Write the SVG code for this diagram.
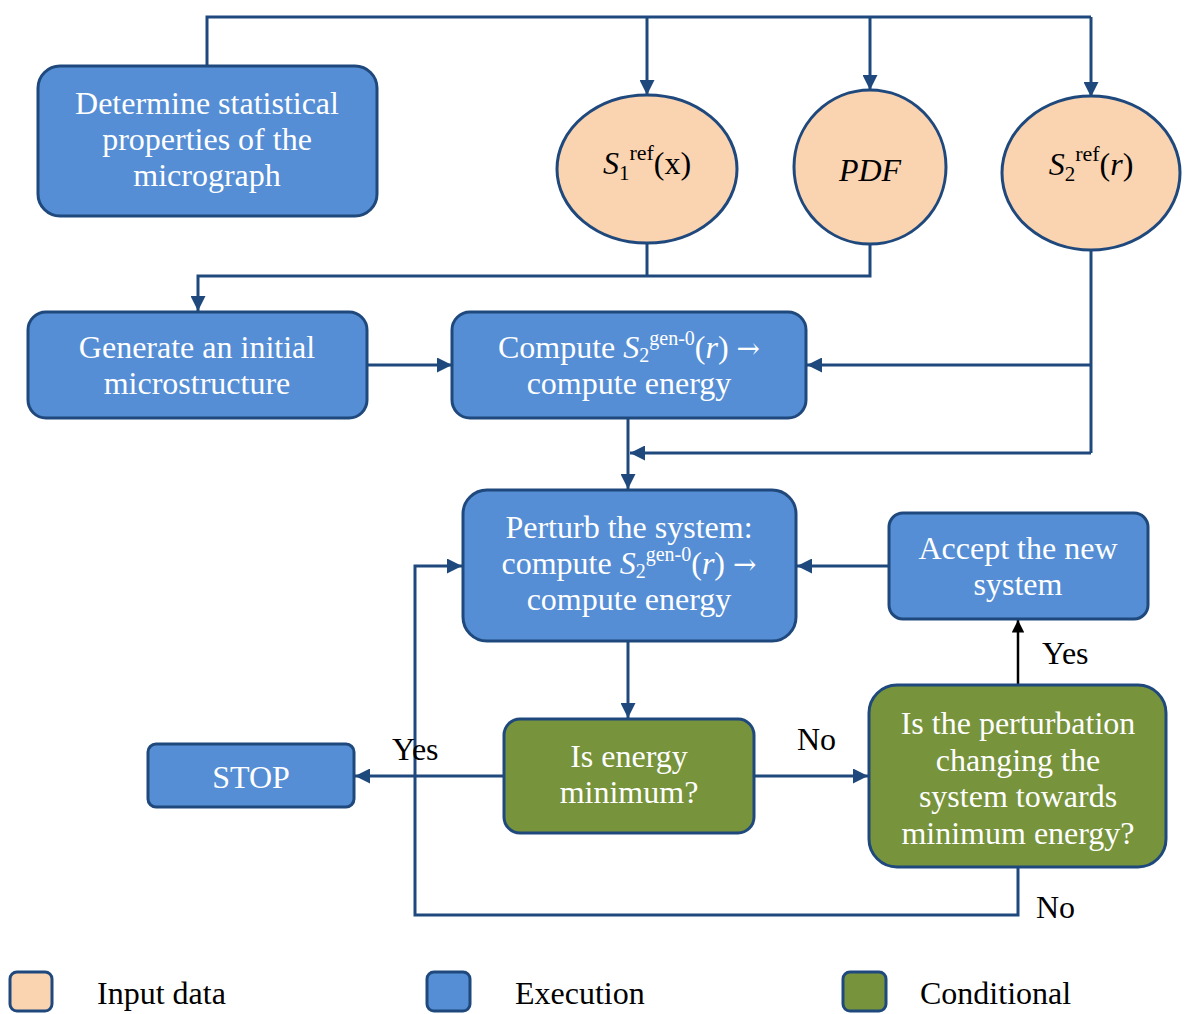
<svg xmlns="http://www.w3.org/2000/svg" width="1185" height="1014" viewBox="0 0 1185 1014">
<style>
.ex{fill:#558ED5;stroke:#1F497D;stroke-width:3}
.in{fill:#FAD3B1;stroke:#1F497D;stroke-width:3}
.co{fill:#77933C;stroke:#1F497D;stroke-width:3}
.t{font-family:"Liberation Serif","Times New Roman",serif;font-size:32px;fill:#fff;text-anchor:middle}
.k{font-family:"Liberation Serif","Times New Roman",serif;font-size:32px;fill:#000}
.c{fill:none;stroke:#1F497D;stroke-width:3}
.i{font-style:italic}
.ar{font-family:"DejaVu Serif",serif;font-size:28px}
</style>
<defs>
<marker id="a" viewBox="0 0 10 10" refX="10" refY="5" markerWidth="5" markerHeight="5" orient="auto" markerUnits="strokeWidth"><path d="M0,0L10,5L0,10z" fill="#1F497D"/></marker>
<marker id="b" viewBox="0 0 10 10" refX="10" refY="5" markerWidth="5" markerHeight="5" orient="auto" markerUnits="strokeWidth"><path d="M0,0L10,5L0,10z" fill="#000"/></marker>
</defs>
<g id="connectors">
<path class="c" d="M207,66V17H1091"/>
<path class="c" d="M647,17V95" marker-end="url(#a)"/>
<path class="c" d="M870,17V90" marker-end="url(#a)"/>
<path class="c" d="M1091,17V97" marker-end="url(#a)"/>
<path class="c" d="M647,243V276"/>
<path class="c" d="M870,243V276H198V311" marker-end="url(#a)"/>
<path class="c" d="M367,365H452" marker-end="url(#a)"/>
<path class="c" d="M1091,250V453"/>
<path class="c" d="M1091,365H807" marker-end="url(#a)"/>
<path class="c" d="M1091,453H630" marker-end="url(#a)"/>
<path class="c" d="M628,418V489" marker-end="url(#a)"/>
<path class="c" d="M889,566H797" marker-end="url(#a)"/>
<path class="c" d="M628,641V718" marker-end="url(#a)"/>
<path class="c" d="M504,776H355" marker-end="url(#a)"/>
<path class="c" d="M754,776H868" marker-end="url(#a)"/>
<path d="M1018,685V620" fill="none" stroke="#000" stroke-width="2.5" marker-end="url(#b)"/>
<path class="c" d="M1018,867V915H415V566H462" marker-end="url(#a)"/>
<text class="k" x="392" y="760">Yes</text>
<text class="k" x="797" y="750">No</text>
<text class="k" x="1042" y="664">Yes</text>
<text class="k" x="1036" y="918">No</text>
</g>
<g id="determine">
<rect class="ex" x="38" y="66" width="339" height="150" rx="22"/>
<text class="t" x="207" y="114">Determine statistical</text>
<text class="t" x="207" y="150">properties of the</text>
<text class="t" x="207" y="186">micrograph</text>
</g>
<g id="s1ref">
<ellipse class="in" cx="647" cy="169" rx="90" ry="74"/>
<text class="k" x="647" y="174" text-anchor="middle"><tspan class="i">S</tspan><tspan font-size="21" dy="6">1</tspan><tspan font-size="22" dy="-20">ref</tspan><tspan dy="14">(x)</tspan></text>
</g>
<g id="pdf">
<ellipse class="in" cx="870" cy="167" rx="76" ry="77"/>
<text class="k i" x="870" y="181" text-anchor="middle">PDF</text>
</g>
<g id="s2ref">
<ellipse class="in" cx="1091" cy="173" rx="89" ry="77"/>
<text class="k" x="1091" y="175" text-anchor="middle"><tspan class="i">S</tspan><tspan font-size="21" dy="6">2</tspan><tspan font-size="22" dy="-20">ref</tspan><tspan dy="14">(</tspan><tspan class="i">r</tspan>)</text>
</g>
<g id="generate">
<rect class="ex" x="28" y="312" width="339" height="106" rx="18"/>
<text class="t" x="197" y="358">Generate an initial</text>
<text class="t" x="197" y="394">microstructure</text>
</g>
<g id="compute">
<rect class="ex" x="452" y="312" width="354" height="106" rx="18"/>
<text class="t" x="629" y="358">Compute <tspan class="i">S</tspan><tspan font-size="20" dy="4">2</tspan><tspan font-size="20" dy="-17">gen-0</tspan><tspan dy="13">(</tspan><tspan class="i">r</tspan>) <tspan class="ar">→</tspan></text>
<text class="t" x="629" y="394">compute energy</text>
</g>
<g id="perturb">
<rect class="ex" x="463" y="490" width="333" height="151" rx="24"/>
<text class="t" x="629" y="538">Perturb the system:</text>
<text class="t" x="629" y="574">compute <tspan class="i">S</tspan><tspan font-size="20" dy="4">2</tspan><tspan font-size="20" dy="-17">gen-0</tspan><tspan dy="13">(</tspan><tspan class="i">r</tspan>) <tspan class="ar">→</tspan></text>
<text class="t" x="629" y="610">compute energy</text>
</g>
<g id="accept">
<rect class="ex" x="889" y="513" width="259" height="106" rx="14"/>
<text class="t" x="1018" y="559">Accept the new</text>
<text class="t" x="1018" y="595">system</text>
</g>
<g id="energy">
<rect class="co" x="504" y="719" width="250" height="114" rx="16"/>
<text class="t" x="629" y="767">Is energy</text>
<text class="t" x="629" y="803">minimum?</text>
</g>
<g id="stop">
<rect class="ex" x="148" y="744" width="206" height="63" rx="8"/>
<text class="t" x="251" y="788">STOP</text>
</g>
<g id="perturbation">
<rect class="co" x="869" y="685" width="297" height="182" rx="28"/>
<text class="t" x="1018" y="734">Is the perturbation</text>
<text class="t" x="1018" y="771">changing the</text>
<text class="t" x="1018" y="807">system towards</text>
<text class="t" x="1018" y="844">minimum energy?</text>
</g>
<g id="legend">
<rect class="in" x="10" y="972" width="42" height="39" rx="7" stroke-width="2"/>
<text class="k" x="97" y="1004">Input data</text>
<rect class="ex" x="427" y="972" width="43" height="39" rx="7" stroke-width="2"/>
<text class="k" x="515" y="1004">Execution</text>
<rect class="co" x="843" y="972" width="43" height="39" rx="7" stroke-width="2"/>
<text class="k" x="920" y="1004">Conditional</text>
</g>
</svg>
